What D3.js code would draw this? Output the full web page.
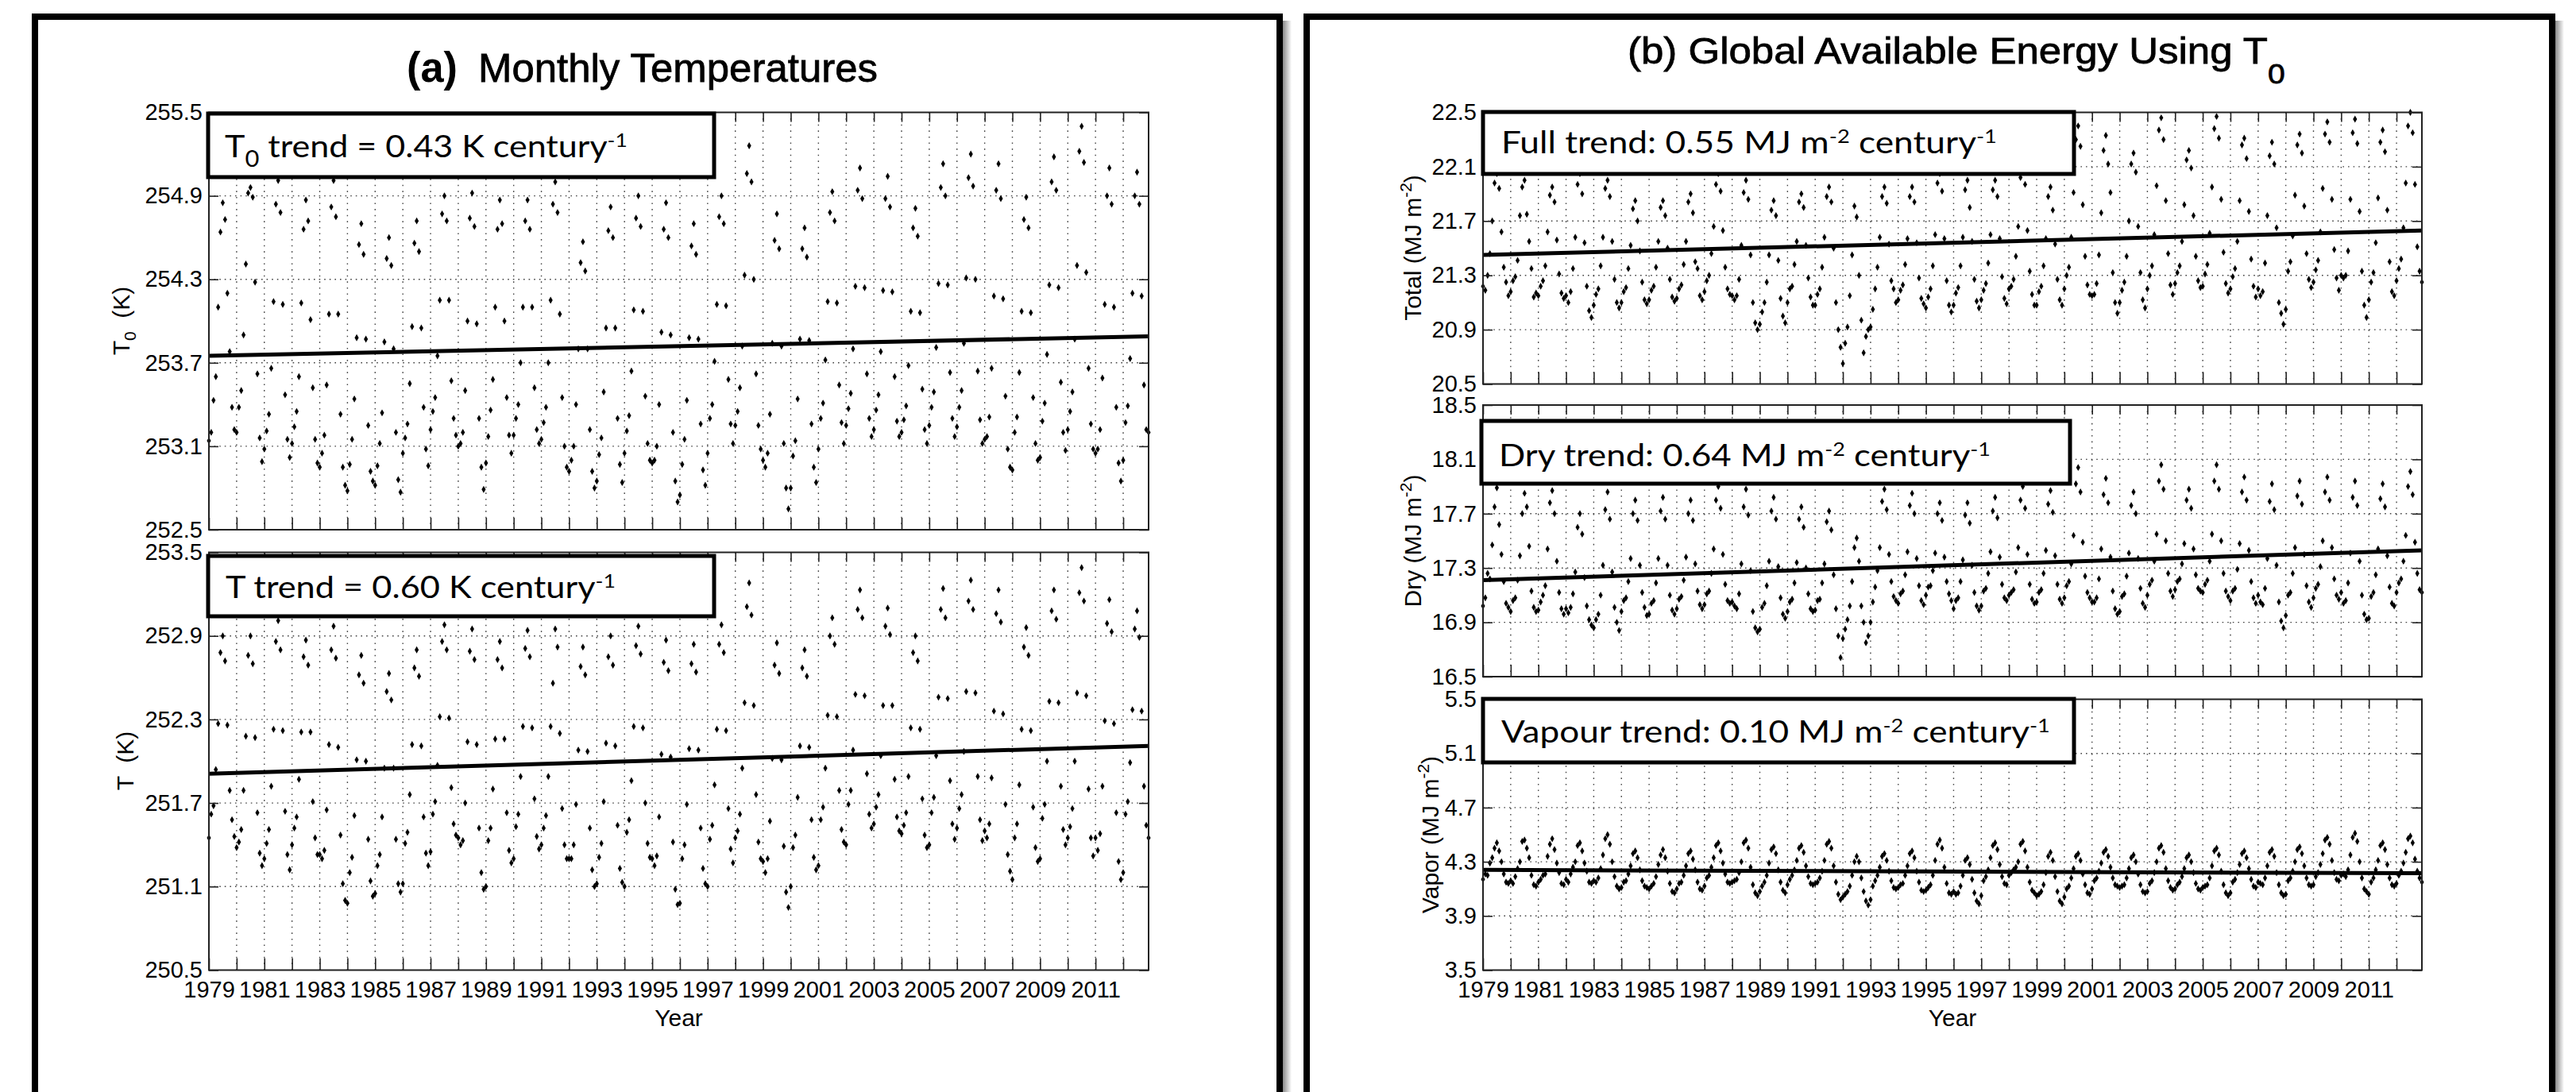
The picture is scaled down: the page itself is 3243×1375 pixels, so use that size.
<!DOCTYPE html>
<html>
<head>
<meta charset="utf-8">
<script src="https://cdn.jsdelivr.net/npm/d3@7"></script>
<style>
  body { margin: 0; background: #fff; }
  svg { display: block; }
  text { white-space: pre; }
</style>
</head>
<body>
<div id="chart"></div>
<script>
// 1. SETUP
const width = 3243;
const height = 1375;

const mFont = "'Liberation Sans', Arial, Helvetica, sans-serif";
const legendFont = "Lato, 'Open Sans', sans-serif";

// 2. DATA (monthly values, one row per year, Jan..Dec)
const years = d3.range(1979, 2013);
const yearTicks = d3.range(1979, 2013);
const yearLabels = [1979, 1981, 1983, 1985, 1987, 1989, 1991, 1993, 1995, 1997, 1999, 2001, 2003, 2005, 2007, 2009, 2011];

const ticksT0 = [252.5, 253.1, 253.7, 254.3, 254.9, 255.5];
const ticksT = [250.5, 251.1, 251.7, 252.3, 252.9, 253.5];
const ticksTotal = [20.5, 20.9, 21.3, 21.7, 22.1, 22.5];
const ticksDry = [16.5, 16.9, 17.3, 17.7, 18.1, 18.5];
const ticksVapor = [3.5, 3.9, 4.3, 4.7, 5.1, 5.5];

// trend lines: value at first month, value at last month
const trendT0 = [253.75, 253.89];
const trendT = [251.91, 252.11];
const trendTotal = [21.45, 21.63];
const trendDry = [17.21, 17.43];
const trendVapor = [4.24, 4.215];

const t0Values = [
  [253.14,253.20,253.43,253.60,254.10,254.64,254.85,254.73,254.20,253.78,253.38,253.22],
  [253.20,253.38,253.50,253.90,254.41,254.92,254.96,254.89,254.28,253.62,253.16,252.99],
  [253.08,253.21,253.33,253.66,254.14,254.84,255.01,254.78,254.12,253.47,253.15,253.02],
  [253.12,253.24,253.35,253.60,254.13,254.66,254.87,254.72,254.01,253.52,253.15,252.98],
  [252.95,253.05,253.18,253.54,254.05,254.82,255.01,254.75,254.05,253.33,252.95,252.82],
  [252.78,252.97,253.15,253.44,253.88,254.55,254.70,254.48,253.87,253.25,252.92,252.85],
  [252.82,252.96,253.12,253.34,253.85,254.45,254.60,254.40,253.80,253.20,252.86,252.77],
  [253.05,253.16,253.26,253.55,253.96,254.56,254.72,254.50,253.95,253.38,253.08,252.96],
  [253.22,253.35,253.45,253.75,254.15,254.77,254.90,254.72,254.15,253.57,253.30,253.18],
  [253.10,253.12,253.20,253.50,254.00,254.74,254.92,254.68,253.98,253.30,252.95,252.79],
  [252.98,253.17,253.36,253.58,254.10,254.66,254.87,254.70,254.00,253.45,253.18,253.05],
  [253.18,253.30,253.40,253.70,254.10,254.72,254.87,254.66,254.10,253.52,253.22,253.12],
  [253.15,253.27,253.38,253.70,254.15,254.84,255.00,254.78,254.05,253.45,253.10,252.95],
  [252.92,253.00,253.10,253.40,253.80,254.42,254.57,254.36,253.80,253.22,252.92,252.80],
  [252.85,253.04,253.16,253.49,253.95,254.65,254.82,254.60,253.95,253.30,252.97,252.84],
  [253.05,253.21,253.32,253.64,254.08,254.74,254.90,254.68,254.07,253.46,253.12,253.00],
  [252.98,253.00,253.10,253.40,253.92,254.66,254.85,254.60,253.90,253.20,252.85,252.70],
  [252.75,252.97,253.15,253.43,253.88,254.54,254.70,254.48,253.87,253.26,252.93,252.82],
  [253.05,253.30,253.40,253.71,254.12,254.75,254.90,254.70,254.11,253.58,253.26,253.12],
  [253.25,253.35,253.52,253.82,254.33,255.06,255.26,255.00,254.30,253.62,253.25,253.08],
  [253.00,252.95,253.05,253.33,253.84,254.58,254.77,254.52,253.82,253.12,252.80,252.65],
  [252.80,253.03,253.14,253.44,253.87,254.52,254.67,254.46,253.86,253.26,252.95,252.84],
  [253.08,253.30,253.41,253.72,254.14,254.78,254.93,254.72,254.13,253.54,253.27,253.12],
  [253.25,253.37,253.48,253.80,254.25,254.94,255.10,254.88,254.24,253.62,253.30,253.17],
  [253.22,253.36,253.47,253.78,254.22,254.88,255.04,254.82,254.21,253.60,253.28,253.17],
  [253.20,253.29,253.39,253.68,254.07,254.67,254.81,254.61,254.06,253.51,253.22,253.12],
  [253.25,253.38,253.49,253.81,254.27,254.96,255.13,254.90,254.26,253.63,253.30,253.17],
  [253.24,253.38,253.50,253.84,254.31,255.03,255.20,254.97,254.30,253.64,253.29,253.12],
  [253.15,253.17,253.31,253.66,254.18,254.94,255.13,254.88,254.16,253.46,253.08,252.95],
  [252.93,253.20,253.31,253.63,254.07,254.73,254.89,254.67,254.06,253.45,253.12,253.00],
  [253.02,253.28,253.41,253.76,254.26,255.00,255.18,254.94,254.24,253.56,253.20,253.07],
  [253.22,253.35,253.49,253.87,254.40,255.22,255.40,255.14,254.35,253.66,253.26,253.08],
  [253.05,253.08,253.22,253.59,254.12,254.90,255.10,254.84,254.10,253.38,252.98,252.85],
  [253.00,253.27,253.39,253.73,254.20,254.90,255.07,254.84,254.18,253.54,253.22,253.20]
];

const tValues = [
  [251.45,251.62,251.68,251.94,252.27,252.78,252.90,252.72,252.26,251.79,251.58,251.46],
  [251.38,251.42,251.51,251.79,252.18,252.76,252.90,252.70,252.17,251.63,251.34,251.25],
  [251.30,251.41,251.51,251.82,252.23,252.86,253.01,252.80,252.22,251.64,251.33,251.22],
  [251.40,251.52,251.60,251.87,252.21,252.75,252.87,252.69,252.21,251.71,251.45,251.33],
  [251.33,251.30,251.36,251.65,252.12,252.80,252.97,252.74,252.10,251.47,251.12,251.00],
  [250.98,251.20,251.31,251.61,252.01,252.62,252.76,252.56,252.00,251.44,251.14,251.03],
  [251.05,251.25,251.33,251.60,251.95,252.50,252.63,252.44,251.95,251.44,251.12,251.06],
  [251.12,251.41,251.49,251.76,252.12,252.67,252.80,252.61,252.11,251.60,251.34,251.25],
  [251.35,251.62,251.71,251.97,252.32,252.86,252.98,252.80,252.31,251.81,251.55,251.47],
  [251.45,251.40,251.43,251.70,252.14,252.79,252.95,252.73,252.12,251.52,251.20,251.08],
  [251.10,251.43,251.52,251.80,252.16,252.73,252.86,252.67,252.16,251.63,251.36,251.27],
  [251.30,251.53,251.62,251.89,252.25,252.81,252.94,252.75,252.24,251.73,251.46,251.37],
  [251.40,251.52,251.61,251.89,252.25,252.56,252.95,252.82,252.20,251.66,251.40,251.30],
  [251.30,251.30,251.40,251.69,252.08,252.68,252.82,252.62,252.07,251.52,251.22,251.10],
  [251.12,251.31,251.41,251.71,252.13,252.75,252.90,252.69,252.11,251.54,251.23,251.13],
  [251.10,251.49,251.58,251.86,252.25,252.83,252.97,252.77,252.24,251.70,251.41,251.31],
  [251.30,251.25,251.32,251.60,252.05,252.71,252.87,252.65,252.03,251.42,251.08,250.97],
  [250.98,251.30,251.40,251.69,252.09,252.70,252.84,252.64,252.08,251.52,251.23,251.12],
  [251.10,251.44,251.54,251.83,252.23,252.84,252.98,252.78,252.22,251.66,251.37,251.27],
  [251.45,251.50,251.62,251.95,252.42,253.11,253.28,253.05,252.40,251.76,251.42,251.30],
  [251.28,251.20,251.30,251.57,252.02,252.69,252.85,252.63,252.01,251.39,251.06,250.95],
  [251.10,251.38,251.47,251.74,252.11,252.67,252.80,252.61,252.10,251.58,251.31,251.22],
  [251.25,251.58,251.67,251.95,252.33,252.90,253.03,252.84,252.32,251.79,251.51,251.42],
  [251.40,251.69,251.79,252.08,252.48,253.09,253.23,253.03,252.47,251.91,251.62,251.52],
  [251.55,251.67,251.76,252.04,252.40,252.97,253.10,252.91,252.40,251.87,251.60,251.50],
  [251.48,251.54,251.63,251.89,252.24,252.78,252.90,252.72,252.23,251.73,251.47,251.38],
  [251.40,251.63,251.74,252.04,252.46,253.09,253.24,253.03,252.45,251.86,251.55,251.44],
  [251.52,251.66,251.76,252.07,252.50,253.15,253.30,253.09,252.49,251.89,251.58,251.43],
  [251.50,251.45,251.55,251.88,252.36,253.06,253.23,253.00,252.34,251.69,251.33,251.21],
  [251.15,251.45,251.55,251.83,252.23,252.82,252.96,252.76,252.22,251.67,251.38,251.28],
  [251.30,251.59,251.69,252.00,252.43,253.08,253.23,253.02,252.42,251.82,251.51,251.40],
  [251.45,251.53,251.66,252.00,252.49,253.21,253.39,253.15,252.47,251.80,251.45,251.32],
  [251.45,251.36,251.48,251.82,252.29,252.99,253.16,252.93,252.27,251.63,251.28,251.15],
  [251.20,251.62,251.71,251.99,252.37,252.95,253.08,252.89,252.36,251.82,251.54,251.45]
];

const totalValues = [
  [21.22,21.19,21.30,21.46,21.70,21.98,22.05,21.94,21.62,21.36,21.25,21.15],
  [21.18,21.26,21.29,21.41,21.74,21.95,22.00,21.75,21.55,21.35,21.14,21.17],
  [21.15,21.22,21.26,21.37,21.62,21.89,21.95,21.84,21.56,21.31,21.17,21.13],
  [21.15,21.10,21.18,21.35,21.58,21.97,22.05,21.90,21.54,21.22,21.04,20.99],
  [21.08,21.16,21.20,21.37,21.58,21.94,22.00,21.88,21.55,21.27,21.10,21.06],
  [21.10,21.18,21.21,21.35,21.52,21.79,21.85,21.70,21.48,21.25,21.12,21.09],
  [21.12,21.19,21.22,21.36,21.55,21.80,21.85,21.74,21.50,21.27,21.14,21.11],
  [21.13,21.20,21.23,21.38,21.55,21.84,21.90,21.76,21.40,21.35,21.15,21.12],
  [21.18,21.26,21.30,21.46,21.66,21.97,22.05,21.92,21.63,21.36,21.20,21.16],
  [21.15,21.12,21.15,21.27,21.52,21.91,22.00,21.86,21.45,21.10,20.95,20.90],
  [20.94,21.03,21.10,21.25,21.45,21.78,21.85,21.74,21.41,21.13,21.00,20.95],
  [21.10,21.20,21.22,21.38,21.55,21.84,21.90,21.80,21.52,21.28,21.14,21.08],
  [21.08,21.16,21.20,21.36,21.58,21.88,21.95,21.84,21.50,21.10,20.90,20.77],
  [20.65,20.80,20.92,21.15,21.45,21.81,21.73,21.30,20.97,20.73,20.85,20.90],
  [20.92,21.05,21.20,21.36,21.58,21.88,21.95,21.83,21.53,21.26,21.20,21.10],
  [21.12,21.19,21.23,21.38,21.57,21.88,21.95,21.84,21.54,21.28,21.13,21.09],
  [21.06,21.14,21.20,21.37,21.60,21.98,22.05,21.92,21.57,21.26,21.08,21.03],
  [21.08,21.17,21.21,21.37,21.58,21.93,22.00,21.80,21.55,21.27,21.11,21.06],
  [21.12,21.19,21.24,21.39,21.60,21.93,22.00,21.88,21.57,21.29,21.13,21.09],
  [21.20,21.22,21.27,21.44,21.66,22.02,22.10,21.97,21.63,21.33,21.16,21.08],
  [21.08,21.18,21.22,21.37,21.57,21.88,21.95,21.78,21.53,21.27,21.12,21.08],
  [21.20,21.30,21.36,21.58,21.91,22.30,22.40,22.25,21.82,21.44,21.23,21.16],
  [21.15,21.16,21.24,21.45,21.76,22.22,22.33,22.12,21.91,21.32,21.10,21.02],
  [21.10,21.19,21.25,21.44,21.70,22.12,22.20,22.06,21.66,21.32,21.12,21.06],
  [21.20,21.30,21.37,21.60,21.96,22.37,22.46,22.30,21.85,21.46,21.23,21.16],
  [21.24,21.32,21.37,21.55,21.82,22.15,22.22,22.09,21.74,21.44,21.26,21.21],
  [21.22,21.31,21.38,21.61,21.95,22.38,22.47,22.31,21.86,21.47,21.24,21.17],
  [21.20,21.29,21.35,21.55,21.85,22.26,22.31,22.16,21.77,21.42,21.22,21.14],
  [21.20,21.15,21.18,21.39,21.74,22.18,22.28,22.12,21.65,21.10,21.02,20.94],
  [21.05,21.33,21.40,21.59,21.89,22.26,22.34,22.20,21.81,21.46,21.27,21.21],
  [21.25,21.34,21.41,21.62,21.94,22.34,22.43,22.28,21.86,21.49,21.28,21.19],
  [21.30,21.28,21.30,21.48,21.86,22.35,22.45,22.27,21.77,21.33,21.08,20.99],
  [21.12,21.25,21.32,21.54,21.87,22.28,22.37,22.21,21.78,21.40,21.18,21.15],
  [21.26,21.35,21.42,21.65,21.98,22.40,22.50,22.35,21.97,21.51,21.33,21.25]
];

const dryValues = [
  [17.02,17.08,17.26,17.22,17.47,17.75,17.89,17.62,17.40,17.20,17.04,17.01],
  [16.98,17.06,17.08,17.21,17.39,17.70,17.85,17.75,17.46,17.13,17.01,16.98],
  [16.99,17.05,17.10,17.17,17.44,17.78,17.87,17.70,17.35,17.12,17.00,16.96],
  [17.00,16.97,17.01,17.11,17.27,17.60,17.70,17.55,17.23,17.02,16.92,16.88],
  [16.86,16.92,16.96,17.10,17.32,17.73,17.86,17.66,17.27,17.01,16.90,16.84],
  [16.98,17.06,17.08,17.20,17.37,17.70,17.80,17.65,17.32,17.12,17.01,16.95],
  [16.96,17.04,17.06,17.19,17.37,17.72,17.82,17.66,17.32,17.10,16.99,16.96],
  [17.00,17.07,17.09,17.21,17.38,17.70,17.80,17.65,17.33,17.13,17.03,17.00],
  [17.03,17.11,17.13,17.26,17.44,17.80,17.90,17.74,17.40,17.18,17.06,17.04],
  [17.05,17.02,17.00,17.11,17.33,17.75,17.88,17.69,17.28,16.98,16.86,16.83],
  [16.85,17.01,17.04,17.17,17.35,17.72,17.82,17.66,17.31,17.08,16.96,16.93],
  [16.98,17.05,17.07,17.19,17.34,17.66,17.75,17.60,17.30,17.11,17.00,16.98],
  [16.99,17.06,17.07,17.19,17.33,17.64,17.72,17.58,17.25,17.00,16.80,16.64],
  [16.78,16.85,16.92,17.02,17.20,17.45,17.52,17.35,17.02,16.90,16.75,16.80],
  [16.90,17.05,17.16,17.28,17.45,17.79,17.88,17.73,17.40,17.20,17.09,17.06],
  [17.04,17.11,17.13,17.25,17.42,17.76,17.85,17.70,17.37,17.17,17.06,17.03],
  [17.10,17.16,17.17,17.28,17.41,17.70,17.78,17.65,17.38,17.20,17.11,17.06],
  [17.00,17.06,17.08,17.20,17.36,17.69,17.78,17.63,17.32,17.12,17.02,16.99],
  [17.02,17.13,17.15,17.26,17.42,17.72,17.82,17.67,17.38,17.18,17.08,17.06],
  [17.10,17.12,17.14,17.27,17.45,17.80,17.90,17.74,17.40,17.18,17.07,17.04],
  [17.05,17.12,17.14,17.26,17.43,17.77,17.87,17.71,17.39,17.18,17.07,17.04],
  [17.08,17.17,17.20,17.33,17.54,17.92,18.04,17.86,17.49,17.24,17.12,17.08],
  [17.05,17.05,17.08,17.22,17.44,17.84,17.96,17.78,17.38,17.13,17.00,16.96],
  [16.98,17.09,17.11,17.24,17.41,17.76,17.86,17.70,17.37,17.15,17.04,17.01],
  [17.10,17.18,17.21,17.35,17.55,17.94,18.06,17.88,17.50,17.26,17.13,17.09],
  [17.14,17.20,17.22,17.33,17.48,17.80,17.88,17.74,17.44,17.25,17.15,17.13],
  [17.12,17.18,17.21,17.35,17.55,17.94,18.06,17.88,17.50,17.26,17.13,17.09],
  [17.06,17.13,17.15,17.29,17.48,17.86,17.97,17.80,17.43,17.20,17.08,17.04],
  [17.10,17.05,17.03,17.15,17.37,17.79,17.92,17.73,17.32,17.05,16.91,16.86],
  [16.95,17.10,17.12,17.26,17.45,17.83,17.94,17.77,17.40,17.17,17.05,17.01],
  [17.08,17.15,17.18,17.31,17.50,17.86,17.97,17.80,17.45,17.22,17.10,17.07],
  [17.12,17.04,17.06,17.19,17.41,17.82,17.94,17.76,17.35,17.10,16.96,16.92],
  [16.93,17.09,17.12,17.25,17.44,17.81,17.92,17.75,17.39,17.16,17.04,17.02],
  [17.12,17.19,17.22,17.35,17.54,17.90,18.01,17.84,17.49,17.26,17.14,17.12]
];

const vaporValues = [
  [4.17,4.21,4.20,4.29,4.33,4.40,4.44,4.38,4.30,4.21,4.15,4.14],
  [4.16,4.14,4.19,4.25,4.30,4.45,4.46,4.40,4.33,4.20,4.13,4.12],
  [4.15,4.17,4.20,4.21,4.34,4.43,4.47,4.39,4.29,4.22,4.14,4.13],
  [4.17,4.15,4.21,4.26,4.30,4.42,4.44,4.38,4.29,4.23,4.15,4.14],
  [4.16,4.15,4.18,4.25,4.35,4.47,4.50,4.43,4.30,4.19,4.12,4.10],
  [4.11,4.15,4.16,4.21,4.27,4.36,4.38,4.33,4.24,4.16,4.12,4.11],
  [4.10,4.12,4.14,4.19,4.28,4.35,4.39,4.33,4.23,4.14,4.08,4.07],
  [4.10,4.14,4.15,4.20,4.27,4.36,4.38,4.32,4.24,4.15,4.10,4.09],
  [4.12,4.18,4.20,4.26,4.33,4.42,4.44,4.38,4.29,4.21,4.15,4.14],
  [4.15,4.16,4.17,4.22,4.30,4.44,4.46,4.40,4.26,4.13,4.07,4.05],
  [4.08,4.12,4.15,4.20,4.29,4.39,4.41,4.36,4.24,4.15,4.09,4.07],
  [4.13,4.17,4.20,4.24,4.31,4.40,4.42,4.37,4.27,4.19,4.14,4.13],
  [4.14,4.15,4.18,4.23,4.31,4.43,4.45,4.40,4.27,4.15,4.06,4.02],
  [4.04,4.06,4.08,4.12,4.20,4.30,4.34,4.30,4.18,4.08,4.01,3.98],
  [4.02,4.12,4.16,4.20,4.26,4.34,4.36,4.31,4.23,4.16,4.11,4.10],
  [4.11,4.13,4.14,4.20,4.27,4.36,4.38,4.33,4.23,4.15,4.09,4.08],
  [4.09,4.11,4.13,4.20,4.31,4.43,4.46,4.40,4.26,4.14,4.07,4.06],
  [4.08,4.06,4.07,4.12,4.20,4.31,4.33,4.28,4.17,4.07,4.01,3.99],
  [4.05,4.16,4.19,4.24,4.33,4.42,4.44,4.39,4.28,4.19,4.14,4.13],
  [4.20,4.22,4.24,4.26,4.30,4.43,4.45,4.38,4.26,4.15,4.09,4.07],
  [4.05,4.06,4.08,4.13,4.22,4.34,4.37,4.31,4.19,4.08,4.01,3.99],
  [4.04,4.10,4.12,4.18,4.25,4.34,4.36,4.31,4.21,4.13,4.07,4.06],
  [4.10,4.16,4.18,4.23,4.29,4.37,4.39,4.34,4.26,4.18,4.13,4.12],
  [4.11,4.12,4.13,4.18,4.25,4.33,4.35,4.30,4.21,4.13,4.08,4.07],
  [4.08,4.14,4.16,4.22,4.30,4.40,4.42,4.37,4.25,4.16,4.11,4.09],
  [4.10,4.13,4.15,4.19,4.25,4.33,4.35,4.30,4.22,4.14,4.10,4.09],
  [4.11,4.12,4.13,4.18,4.27,4.38,4.40,4.35,4.23,4.13,4.07,4.05],
  [4.07,4.15,4.17,4.22,4.28,4.36,4.38,4.33,4.25,4.17,4.12,4.11],
  [4.15,4.14,4.13,4.18,4.27,4.37,4.39,4.34,4.22,4.13,4.07,4.05],
  [4.06,4.16,4.18,4.23,4.30,4.39,4.41,4.36,4.27,4.18,4.13,4.12],
  [4.13,4.19,4.22,4.28,4.36,4.46,4.48,4.43,4.31,4.22,4.17,4.16],
  [4.20,4.21,4.19,4.24,4.35,4.48,4.51,4.45,4.30,4.18,4.10,4.08],
  [4.06,4.15,4.18,4.24,4.31,4.42,4.44,4.39,4.28,4.18,4.13,4.12],
  [4.14,4.20,4.23,4.29,4.37,4.47,4.49,4.44,4.32,4.23,4.18,4.15]
];

const firstT = years[0];
const lastT = years[years.length - 1] + 11 / 12;

const svg = d3.select("#chart")
    .append("svg")
    .attr("width", width)
    .attr("height", height)
    .style("background", "#fff");

// stretch text horizontally so it spans the width measured on the reference
function fitWidth(sel, x0, target) {
    const w = sel.node().getBBox().width;
    const k = target / w;
    sel.attr("transform", `translate(${x0},0) scale(${k},1) translate(${-x0},0)`);
}

// text with sub/superscript parts: [string, "n"|"sub"|"sup"]
function richText(t, parts, size, subSize, subDy, supSize, supDy) {
    let shift = 0;
    parts.forEach(([s, kind]) => {
        const target = kind === "sub" ? subDy : kind === "sup" ? supDy : 0;
        t.append("tspan")
            .attr("dy", target - shift)
            .attr("font-size", kind === "sub" ? subSize : kind === "sup" ? supSize : size)
            .text(s);
        shift = target;
    });
}

// 3. FRAMES
const defs = svg.append("defs");
const grad = defs.append("linearGradient").attr("id", "shadow");
grad.append("stop").attr("offset", "0%").attr("stop-color", "#8a8a8a");
grad.append("stop").attr("offset", "100%").attr("stop-color", "#ffffff");

[[44, 1567], [1645, 1568]].forEach(([fx, fw]) => {
    svg.append("rect").attr("x", fx + fw + 4).attr("y", 26).attr("width", 11).attr("height", height)
        .attr("fill", "url(#shadow)");
    svg.append("rect").attr("x", fx).attr("y", 21).attr("width", fw).attr("height", 1420)
        .attr("fill", "none").attr("stroke", "#000").attr("stroke-width", 8);
});

// 4. PANELS
const panels = [
    { left: 263, right: 1446, top: 141.5, bottom: 667, values: t0Values, ticks: ticksT0, trend: trendT0, xLabels: false,
      box: { x: 262, y: 143, w: 637, h: 80, tx: 283, ty: 198, tw: 507,
             parts: [["T", "n"], ["0", "sub"], [" trend = 0.43 K century", "n"], ["-1", "sup"]] } },
    { left: 263, right: 1446, top: 695.5, bottom: 1221.5, values: tValues, ticks: ticksT, trend: trendT, xLabels: true,
      box: { x: 262, y: 700, w: 637, h: 76, tx: 284, ty: 753, tw: 491,
             parts: [["T trend = 0.60 K century", "n"], ["-1", "sup"]] } },
    { left: 1867, right: 3049, top: 141.5, bottom: 483.5, values: totalValues, ticks: ticksTotal, trend: trendTotal, xLabels: false,
      box: { x: 1867, y: 141, w: 744, h: 78, tx: 1890, ty: 193, tw: 624,
             parts: [["Full trend: 0.55 MJ m", "n"], ["-2", "sup"], [" century", "n"], ["-1", "sup"]] } },
    { left: 1867, right: 3049, top: 510, bottom: 852, values: dryValues, ticks: ticksDry, trend: trendDry, xLabels: false,
      box: { x: 1865, y: 530, w: 741, h: 79, tx: 1887, ty: 587, tw: 619,
             parts: [["Dry trend: 0.64 MJ m", "n"], ["-2", "sup"], [" century", "n"], ["-1", "sup"]] } },
    { left: 1867, right: 3049, top: 880.5, bottom: 1221.5, values: vaporValues, ticks: ticksVapor, trend: trendVapor, xLabels: true,
      box: { x: 1867, y: 880, w: 744, h: 80, tx: 1890, ty: 935, tw: 691,
             parts: [["Vapour trend: 0.10 MJ m", "n"], ["-2", "sup"], [" century", "n"], ["-1", "sup"]] } }
];

const fmt = d3.format(".1f");

panels.forEach(p => {
    const x = d3.scaleLinear().domain([firstT, lastT]).range([p.left, p.right]);
    const y = d3.scaleLinear().domain([p.ticks[0], p.ticks[p.ticks.length - 1]]).range([p.bottom, p.top]);
    const g = svg.append("g");

    // dotted grid
    g.append("g").selectAll("line").data(yearTicks.slice(1)).join("line")
        .attr("x1", d => x(d)).attr("x2", d => x(d))
        .attr("y1", p.top).attr("y2", p.bottom)
        .attr("stroke", "#444").attr("stroke-width", 1.4).attr("stroke-dasharray", "1.6,6");
    g.append("g").selectAll("line").data(p.ticks.slice(1, -1)).join("line")
        .attr("x1", p.left).attr("x2", p.right)
        .attr("y1", d => y(d)).attr("y2", d => y(d))
        .attr("stroke", "#444").attr("stroke-width", 1.4).attr("stroke-dasharray", "1.6,5");

    // monthly points
    const pts = p.values.flatMap((row, i) => row.map((v, m) => ({ t: years[i] + m / 12, v })));
    g.append("g").selectAll("path").data(pts).join("path")
        .attr("d", d3.symbol(d3.symbolDiamond, 23))
        .attr("transform", d => `translate(${x(d.t)},${y(d.v)})`)
        .attr("fill", "#000");

    // trend line
    g.append("line")
        .attr("x1", x(firstT)).attr("x2", x(lastT))
        .attr("y1", y(p.trend[0])).attr("y2", y(p.trend[1]))
        .attr("stroke", "#000").attr("stroke-width", 5);

    // axes
    const styleAxis = sel => {
        sel.select(".domain").remove();
        sel.selectAll(".tick line").attr("stroke", "#222").attr("stroke-width", 1.6);
        sel.selectAll("text").attr("font-size", 29).attr("font-family", mFont).attr("fill", "#000");
    };
    g.append("g").attr("transform", `translate(0,${p.bottom})`)
        .call(d3.axisBottom(x).tickValues(yearTicks).tickSize(-15).tickSizeOuter(0).tickPadding(14)
            .tickFormat(d => p.xLabels && yearLabels.includes(d) ? d : ""))
        .call(styleAxis);
    g.append("g").attr("transform", `translate(0,${p.top})`)
        .call(d3.axisTop(x).tickValues(yearTicks).tickSize(-12).tickSizeOuter(0).tickFormat(""))
        .call(styleAxis);
    g.append("g").attr("transform", `translate(${p.left},0)`)
        .call(d3.axisLeft(y).tickValues(p.ticks).tickSize(-12).tickSizeOuter(0).tickPadding(8).tickFormat(fmt))
        .call(styleAxis);
    g.append("g").attr("transform", `translate(${p.right},0)`)
        .call(d3.axisRight(y).tickValues(p.ticks).tickSize(-12).tickSizeOuter(0).tickFormat(""))
        .call(styleAxis);

    g.append("rect")
        .attr("x", p.left).attr("y", p.top)
        .attr("width", p.right - p.left).attr("height", p.bottom - p.top)
        .attr("fill", "none").attr("stroke", "#222").attr("stroke-width", 2);

    if (p.xLabels) {
        g.append("text")
            .attr("x", (p.left + p.right) / 2).attr("y", 1292)
            .attr("text-anchor", "middle").attr("font-family", mFont).attr("font-size", 30)
            .text("Year");
    }

    // trend legend box
    const b = p.box;
    g.append("rect")
        .attr("x", b.x).attr("y", b.y).attr("width", b.w).attr("height", b.h)
        .attr("fill", "#fff").attr("stroke", "#000").attr("stroke-width", 5);
    const lt = g.append("text")
        .attr("x", b.tx).attr("y", b.ty)
        .attr("font-family", legendFont).attr("fill", "#000");
    richText(lt, b.parts, 39, 28, 12, 24, -13);
    fitWidth(lt, b.tx, b.tw);
});

// 5. AXIS LABELS AND TITLES
function yLabel(cx, cy, parts) {
    const t = svg.append("text")
        .attr("transform", `translate(${cx},${cy}) rotate(-90)`)
        .attr("text-anchor", "middle")
        .attr("font-family", mFont).attr("fill", "#000");
    richText(t, parts, 30, 21, 8, 21, -12);
}
yLabel(163, 404, [["T", "n"], ["0", "sub"], ["  (K)", "n"]]);
yLabel(168, 958, [["T  (K)", "n"]]);
yLabel(1789, 312, [["Total (MJ m", "n"], ["-2", "sup"], [")", "n"]]);
yLabel(1789, 681, [["Dry (MJ m", "n"], ["-2", "sup"], [")", "n"]]);
yLabel(1811, 1051, [["Vapor (MJ m", "n"], ["-2", "sup"], [")", "n"]]);

const titleA1 = svg.append("text")
    .attr("x", 512).attr("y", 103)
    .attr("font-family", mFont).attr("font-weight", "bold").attr("font-size", 54)
    .text("(a)");
fitWidth(titleA1, 512, 64);
const titleA2 = svg.append("text")
    .attr("x", 602).attr("y", 103)
    .attr("font-family", mFont).attr("font-size", 50)
    .attr("stroke", "#000").attr("stroke-width", 0.8)
    .text("Monthly Temperatures");
fitWidth(titleA2, 602, 503);

const titleB = svg.append("text")
    .attr("x", 2049).attr("y", 80)
    .attr("font-family", mFont).attr("fill", "#000")
    .attr("stroke", "#000").attr("stroke-width", 0.8);
richText(titleB, [["(b) Global Available Energy Using T", "n"], ["0", "sub"]], 47, 36, 25, 36, -12);
fitWidth(titleB, 2049, 828);
</script>
</body>
</html>
